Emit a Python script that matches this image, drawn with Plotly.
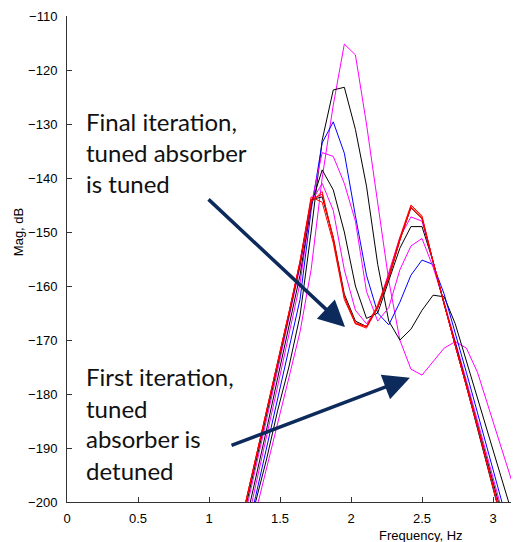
import plotly.graph_objects as go

# Frequency grid (Hz)
freq = [1.172, 1.25, 1.328, 1.406, 1.484, 1.5625, 1.641, 1.719, 1.797, 1.875,
        1.953, 2.031, 2.109, 2.188, 2.266, 2.344, 2.422, 2.5, 2.578, 2.656,
        2.734, 2.8125, 2.891, 2.969, 3.047, 3.125, 3.203]

# Magnitude (dB) for each iteration, first to last
iter1 = [-219, -210, -202, -193.5, -185, -177, -168.5, -157, -140, -126.5,
         -115.2, -117.2, -130, -145, -159, -170, -175.4, -176.5, -174, -171.5,
         -170.3, -171.5, -176, -182.5, -189, -195.5, -202]
iter2 = [-218, -209.5, -200, -192, -183, -175, -165.5, -150, -133, -123.7,
         -123.2, -131, -141.5, -156, -166.5, -170, -168, -164.5, -161.7, -162,
         -167, -174, -181, -188, -194.5, -201.3, -208]
iter3 = [-216, -208, -199, -190, -180.5, -171.5, -162.5, -146, -133.5, -129.6,
         -135.4, -147, -158, -165, -167.2, -163, -158, -155.2, -156, -161.5,
         -168.5, -176, -183.5, -191, -198.5, -206, -213.5]
iter4 = [-215, -206.5, -197, -188, -178.5, -169, -159.5, -145, -135.3, -136,
         -141, -148, -161, -166.5, -164, -157, -152.6, -151.2, -156.5, -163,
         -170, -177.5, -185, -192.5, -200, -207.5, -215]
iter5 = [-214, -205, -195.5, -186.5, -177, -167.5, -158, -145, -138.5, -142.2,
         -150, -160, -166, -165, -159, -153, -149, -149, -155.5, -163.5,
         -170.5, -178, -185.5, -193, -200.5, -208, -216]
iter6 = [-212, -203, -194, -185, -175.5, -166, -156.5, -144.5, -141, -146,
         -157, -164.5, -167, -164, -157.5, -151, -147.2, -148, -155.5, -163.5,
         -171, -178.5, -186, -193.5, -201, -209, -217]
iter7 = [-211, -202, -193, -184, -175, -165.5, -156, -144, -143.5, -151,
         -161.5, -166.5, -167.5, -164, -158.5, -151.5, -145.5, -147.5, -155.5, -163.5,
         -171, -178.5, -186.5, -194.5, -202.5, -210.5, -218]
iter8 = [-210, -201, -192.5, -183.5, -174.5, -165, -155.5, -144.5, -142.5, -151.5,
         -162, -166.8, -167.5, -164, -158.5, -151.5, -145.3, -147.3, -155.5, -163.5,
         -171, -178.5, -186, -194, -202, -210, -218]
iter9 = [-210, -201, -192.5, -183.5, -174.5, -165, -155.5, -143.5, -144.5, -152,
         -162.5, -167, -167.5, -163.5, -158, -151, -145, -147, -155.5, -163.5,
         -171, -178.5, -186, -194, -202, -210, -218]
iter10 = [-210, -201, -192.5, -183.5, -174.5, -165, -155.5, -144, -143, -151,
          -162, -167, -167.8, -164, -158.5, -151.5, -145.5, -147.5, -155.5, -163.5,
          -171, -178.5, -186, -194, -202, -210, -218]

series = [iter1, iter2, iter3, iter4, iter5, iter6, iter7, iter8, iter9, iter10]
colors = ["#ff00ff", "#000000", "#0000ff", "#ff00ff", "#000000",
          "#ff00ff", "#000000", "#ff0000", "#ff0000", "#ff0000"]

x_ticks = [0, 0.5, 1, 1.5, 2, 2.5, 3]
x_ticklabels = ["0", "0.5", "1", "1.5", "2", "2.5", "3"]
y_ticks = [-200, -190, -180, -170, -160, -150, -140, -130, -120, -110]

fig = go.Figure()
for vals, col in zip(series, colors):
    fig.add_trace(go.Scatter(x=freq, y=vals, mode="lines",
                             line=dict(color=col, width=1),
                             showlegend=False, hoverinfo="skip"))

navy = "#0d2a5c"
txt_font = dict(family="Lato, Carlito, sans-serif", size=24, color="#111111")

lines1 = [("Final iteration,", -129.6), ("tuned absorber", -135.3), ("is tuned", -141.0)]
lines2 = [("First iteration,", -176.7), ("tuned", -182.6), ("absorber is", -188.3), ("detuned", -194.1)]
for t, y in lines1 + lines2:
    fig.add_annotation(x=0.125, y=y, xref="x", yref="y", text=t, showarrow=False,
                       xanchor="left", yanchor="middle", font=txt_font, borderpad=0)

# arrows
fig.add_annotation(x=1.958, y=-167.6, ax=0.986, ay=-143.7, xref="x", yref="y",
                   axref="x", ayref="y", text="", showarrow=True, arrowhead=2,
                   arrowsize=1.5, arrowwidth=3.5, arrowcolor=navy, standoff=0)
fig.add_annotation(x=2.415, y=-177.0, ax=1.148, ay=-189.6, xref="x", yref="y",
                   axref="x", ayref="y", text="", showarrow=True, arrowhead=2,
                   arrowsize=1.5, arrowwidth=3.5, arrowcolor=navy, standoff=0)

axis_font = dict(family="Liberation Sans, Arial, sans-serif", size=13, color="#000000")
fig.add_annotation(x=-0.108, y=-150, xref="paper", yref="y", text="Mag, dB",
                   textangle=-90, showarrow=False, font=axis_font,
                   xanchor="center", yanchor="middle")
fig.add_annotation(x=2.49, y=-0.068, xref="x", yref="paper", text="Frequency, Hz",
                   showarrow=False, font=axis_font, xanchor="center", yanchor="middle")

# page body has an 8px margin, so the figure is sized/offset to compensate
fig.update_layout(
    width=511, height=534,
    margin=dict(l=59, r=0, t=8, b=40),
    paper_bgcolor="white", plot_bgcolor="white",
    font=axis_font,
    xaxis=dict(range=[0, 3.183], tickvals=x_ticks, ticktext=x_ticklabels,
               ticks="inside", ticklen=5, tickcolor="#333333", showgrid=False,
               zeroline=False, showline=True, linecolor="#333333", linewidth=1,
               ticklabelstandoff=4),
    yaxis=dict(range=[-200, -110], tickvals=y_ticks,
               ticks="inside", ticklen=5, tickcolor="#333333", showgrid=False,
               zeroline=False, showline=True, linecolor="#333333", linewidth=1,
               ticklabelstandoff=6),
)

fig.write_html("out.html")
